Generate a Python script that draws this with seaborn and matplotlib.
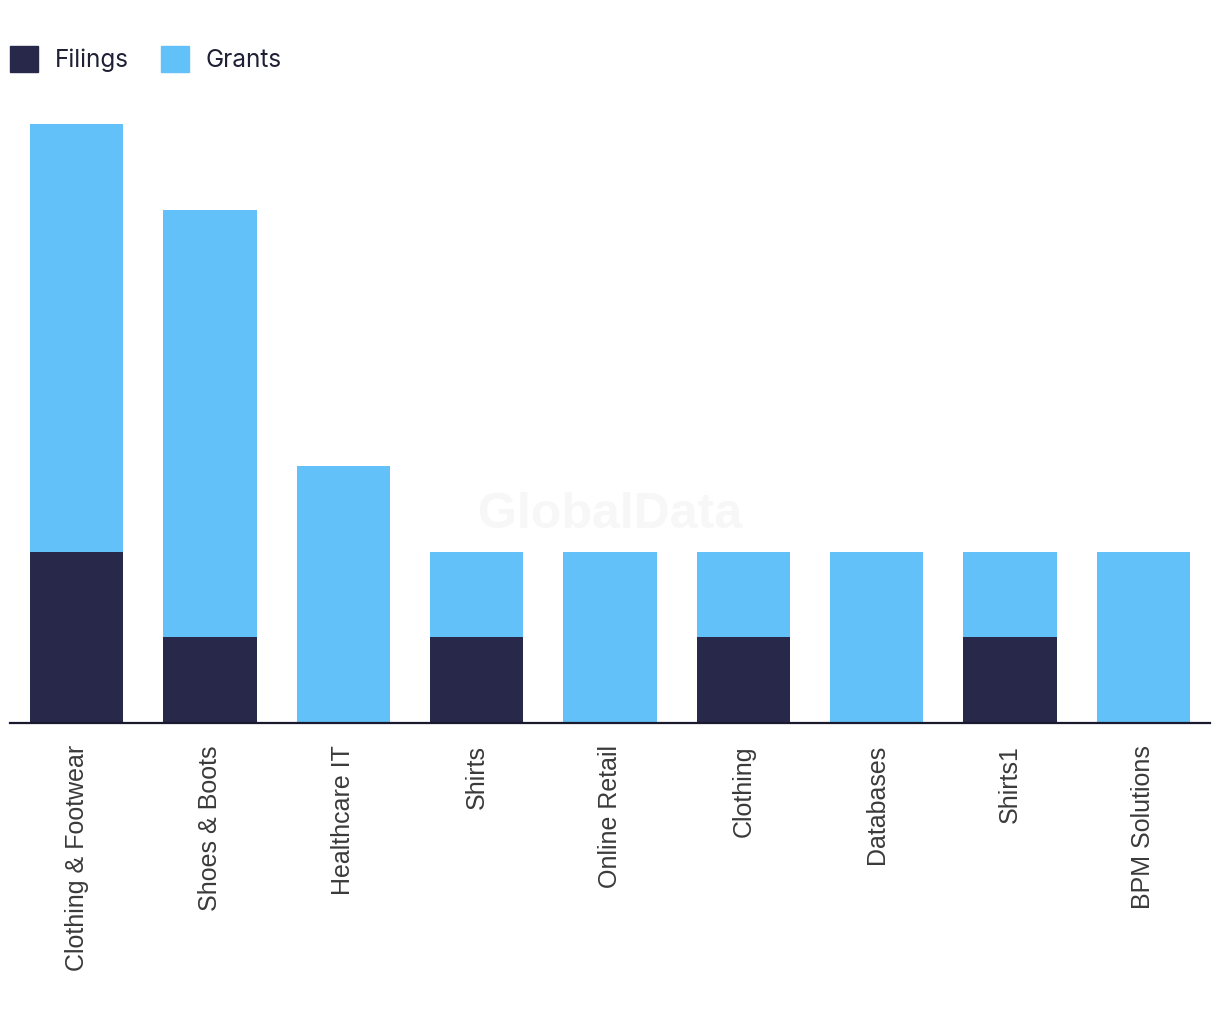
import matplotlib.pyplot as plt
import matplotlib.patches as mpatches
import numpy as np
import pandas as pd
import seaborn as sns

# Patent counts per sector
sectors = ['Clothing & Footwear', 'Shoes & Boots', 'Healthcare IT', 'Shirts',
           'Online Retail', 'Clothing', 'Databases', 'Shirts1', 'BPM Solutions']
filings = [2, 1, 0, 1, 0, 1, 0, 1, 0]
grants = [5, 5, 3, 1, 2, 1, 2, 1, 2]

dark = '#27284a'
light = '#62c1f8'

df = pd.DataFrame({'sector': sectors, 'filings': filings, 'grants': grants})
df['total'] = df['filings'] + df['grants']

sns.set_style('white')
fig = plt.figure(figsize=(12.2, 10.28), dpi=100)
ax = fig.add_axes([10 / 1220, 305 / 1028, 1200 / 1220, 628 / 1028])

# stacked bars: total in light blue, filings drawn over it in dark
sns.barplot(data=df, x='sector', y='total', color=light, width=0.7,
            saturation=1, linewidth=0, edgecolor='none', ax=ax)
sns.barplot(data=df, x='sector', y='filings', color=dark, width=0.7,
            saturation=1, linewidth=0, edgecolor='none', ax=ax)

ax.set_xlim(-0.5, len(sectors) - 0.5)
ax.set_ylim(0, 628 / (599 / 7))
ax.set_xlabel('')
ax.set_ylabel('')
ax.set_yticks([])
for side in ['left', 'right', 'top']:
    ax.spines[side].set_visible(False)
ax.spines['bottom'].set_color('#1a1a2e')
ax.spines['bottom'].set_linewidth(1.6)
ax.tick_params(axis='x', length=0, pad=16)
ax.set_xticks(range(len(sectors)))
ax.set_xticklabels(sectors, rotation=90, fontsize=18, color='#3a3a3a',
                   family='Liberation Sans', va='top')

# watermark
fig.text(610 / 1220, 1 - 515 / 1028, 'GlobalData', ha='center', va='center',
         fontsize=36, fontweight='bold', color='#f7f7f7', family='Liberation Sans',
         zorder=0)

handles = [mpatches.Patch(color=dark, label='Filings'),
           mpatches.Patch(color=light, label='Grants')]
leg = fig.legend(handles=handles, loc='center left',
                 bbox_to_anchor=(10 / 1220, 1 - 59 / 1028),
                 ncol=2, frameon=False, borderpad=0, borderaxespad=0,
                 handlelength=1.15, handleheight=1.3,
                 handletextpad=0.7, columnspacing=1.3,
                 prop={'family': 'Inter', 'size': 17.5})
for t in leg.get_texts():
    t.set_color('#1f2035')

fig.savefig('out.png', dpi=100, facecolor='white')
